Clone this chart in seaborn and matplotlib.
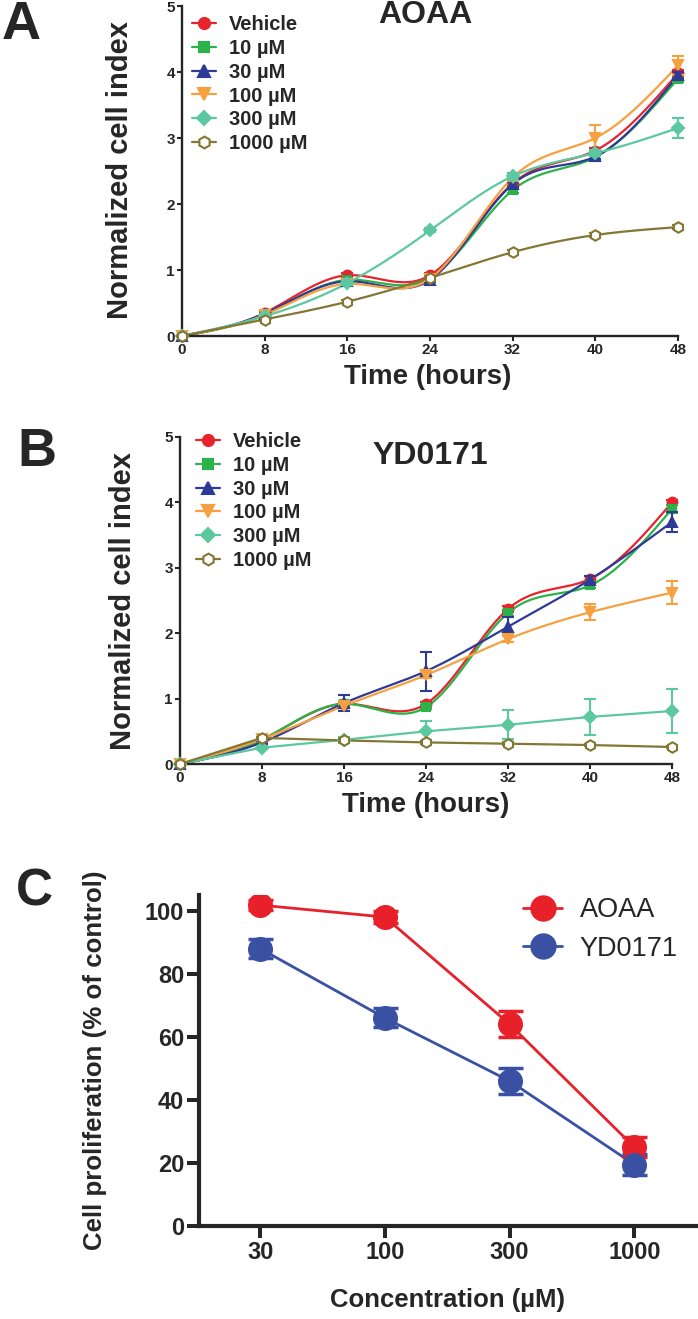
import numpy as np
import matplotlib
matplotlib.use('Agg')
import matplotlib.pyplot as plt
from matplotlib.lines import Line2D
import seaborn as sns

# Données
hours = [0, 8, 16, 24, 32, 40, 48]
groups = ['Vehicle', '10 µM', '30 µM', '100 µM', '300 µM', '1000 µM']

aoaa_vehicle = [0, 0.35, 0.92, 0.92, 2.31, 2.81, 3.98]
aoaa_10 = [0, 0.33, 0.85, 0.88, 2.21, 2.71, 3.90]
aoaa_30 = [0, 0.34, 0.83, 0.85, 2.30, 2.72, 3.95]
aoaa_100 = [0, 0.32, 0.79, 0.87, 2.40, 3.00, 4.10]
aoaa_300 = [0, 0.30, 0.80, 1.60, 2.42, 2.77, 3.15]
aoaa_1000 = [0, 0.25, 0.52, 0.88, 1.27, 1.53, 1.65]

aoaa_err_vehicle = [0, 0.02, 0.03, 0.03, 0.04, 0.04, 0.05]
aoaa_err_10 = [0, 0.02, 0.03, 0.03, 0.04, 0.04, 0.05]
aoaa_err_30 = [0, 0.02, 0.03, 0.03, 0.04, 0.04, 0.05]
aoaa_err_100 = [0, 0.02, 0.03, 0.03, 0.05, 0.19, 0.15]
aoaa_err_300 = [0, 0.02, 0.03, 0.03, 0.05, 0.05, 0.15]
aoaa_err_1000 = [0, 0.02, 0.02, 0.02, 0.03, 0.03, 0.03]

yd_vehicle = [0, 0.37, 0.92, 0.92, 2.37, 2.83, 4.00]
yd_10 = [0, 0.37, 0.92, 0.87, 2.31, 2.73, 3.90]
yd_30 = [0, 0.33, 0.93, 1.42, 2.10, 2.82, 3.70]
yd_100 = [0, 0.38, 0.89, 1.36, 1.91, 2.32, 2.62]
yd_300 = [0, 0.25, 0.37, 0.50, 0.60, 0.72, 0.81]
yd_1000 = [0, 0.40, 0.36, 0.33, 0.31, 0.29, 0.26]

yd_err_vehicle = [0, 0.02, 0.03, 0.03, 0.04, 0.04, 0.04]
yd_err_10 = [0, 0.02, 0.03, 0.03, 0.04, 0.04, 0.06]
yd_err_30 = [0, 0.02, 0.12, 0.30, 0.15, 0.05, 0.16]
yd_err_100 = [0, 0.02, 0.03, 0.05, 0.05, 0.12, 0.18]
yd_err_300 = [0, 0.02, 0.05, 0.15, 0.22, 0.28, 0.33]
yd_err_1000 = [0, 0.02, 0.02, 0.02, 0.02, 0.02, 0.02]

conc_labels = ['30', '100', '300', '1000']
prolif_aoaa = [101.8, 98.0, 64.0, 25.0]
prolif_aoaa_err = [1.5, 1.8, 4.2, 3.2]
prolif_yd = [88.0, 66.0, 46.0, 19.5]
prolif_yd_err = [3.0, 3.0, 4.2, 3.2]

colors = ['#e8232b', '#2bb34a', '#2e3b96', '#f7a03f', '#5cc8a0', '#847733']
markers = ['o', 's', '^', 'v', 'D', 'h']
msizes = [7, 6, 7.5, 7.5, 6.5, 7.5]

sns.set_style('ticks')
plt.rcParams['font.family'] = ['Liberation Sans', 'DejaVu Sans']
plt.rcParams['font.weight'] = 'bold'
plt.rcParams['axes.labelweight'] = 'bold'


def natural_spline(x, y, n=300):
    # courbe lissée (comme Prism) passant par les points
    x = np.asarray(x, float)
    y = np.asarray(y, float)
    h = np.diff(x)
    k = len(x)
    A = np.zeros((k, k))
    b = np.zeros(k)
    A[0, 0] = A[-1, -1] = 1
    for i in range(1, k - 1):
        A[i, i - 1] = h[i - 1]
        A[i, i] = 2 * (h[i - 1] + h[i])
        A[i, i + 1] = h[i]
        b[i] = 6 * ((y[i + 1] - y[i]) / h[i] - (y[i] - y[i - 1]) / h[i - 1])
    M = np.linalg.solve(A, b)
    xs = np.linspace(x[0], x[-1], n)
    idx = np.clip(np.searchsorted(x, xs) - 1, 0, k - 2)
    x0, x1 = x[idx], x[idx + 1]
    hh = x1 - x0
    t0, t1 = x1 - xs, xs - x0
    ys = (M[idx] * t0 ** 3 / (6 * hh) + M[idx + 1] * t1 ** 3 / (6 * hh)
          + (y[idx] / hh - M[idx] * hh / 6) * t0
          + (y[idx + 1] / hh - M[idx + 1] * hh / 6) * t1)
    return xs, ys


def time_panel(ax, series, errors, smooth, legend_xy):
    for i, (vals, err) in enumerate(zip(series, errors)):
        if smooth[i]:
            xs, ys = natural_spline(hours, vals)
        else:
            xs, ys = hours, vals
        sns.lineplot(x=xs, y=ys, color=colors[i], lw=1.6, estimator=None,
                     sort=False, ax=ax, zorder=2 + i * 0.1)
        face = 'white' if markers[i] == 'h' else colors[i]
        ax.errorbar(hours, vals, yerr=err, fmt=markers[i], color=colors[i],
                    mfc=face, mec=colors[i], mew=1.5, ms=msizes[i],
                    elinewidth=1.5, capsize=4, capthick=1.5,
                    clip_on=False, zorder=3 + i * 0.1)
    ax.set_xlim(0, 48)
    ax.set_ylim(0, 5)
    ax.set_xticks(hours)
    ax.set_yticks(range(6))
    sns.despine(ax=ax)
    for s in ['left', 'bottom']:
        ax.spines[s].set_linewidth(1.7)
    ax.tick_params(length=3.6, width=1.5, labelsize=11, pad=1.5)
    ax.set_xlabel('Time (hours)', fontsize=20)
    ax.set_ylabel('Normalized cell index', fontsize=21)
    handles = []
    for i in range(len(groups)):
        face = 'white' if markers[i] == 'h' else colors[i]
        handles.append(Line2D([], [], color=colors[i], lw=1.6, marker=markers[i],
                              ms=msizes[i] + 1, mfc=face, mec=colors[i], mew=1.5))
    ax.legend(handles, groups, loc='upper left', bbox_to_anchor=legend_xy,
              bbox_transform=fig.transFigure, frameon=False, borderpad=0,
              fontsize=14.5, labelspacing=0.24, handlelength=1.2,
              handletextpad=0.62, borderaxespad=0)


W, H = 698, 1319
fig = plt.figure(figsize=(W / 100, H / 100), dpi=100)

# A : AOAA
ax_a = fig.add_axes([182 / W, 1 - 336 / H, 496 / W, 330 / H])
time_panel(ax_a,
           [aoaa_vehicle, aoaa_10, aoaa_30, aoaa_100, aoaa_300, aoaa_1000],
           [aoaa_err_vehicle, aoaa_err_10, aoaa_err_30, aoaa_err_100, aoaa_err_300, aoaa_err_1000],
           [True, True, True, True, True, True],
           (192 / W, 1 - 15 / H))
ax_a.xaxis.set_label_coords(0.496, -0.124)
ax_a.xaxis.label.set_va('center')
ax_a.yaxis.set_label_coords(-0.125, 0.503)
ax_a.yaxis.label.set_va('center')
fig.text(425 / W, 1 - 15 / H, 'AOAA', ha='center', va='center', fontsize=23, fontweight='bold')

# B : YD0171
ax_b = fig.add_axes([180 / W, 1 - 764 / H, 492 / W, 327 / H])
time_panel(ax_b,
           [yd_vehicle, yd_10, yd_30, yd_100, yd_300, yd_1000],
           [yd_err_vehicle, yd_err_10, yd_err_30, yd_err_100, yd_err_300, yd_err_1000],
           [True, True, True, True, False, False],
           (196 / W, 1 - 432 / H))
ax_b.xaxis.set_label_coords(0.5, -0.125)
ax_b.xaxis.label.set_va('center')
ax_b.yaxis.set_label_coords(-0.116, 0.5)
ax_b.yaxis.label.set_va('center')
fig.text(430 / W, 1 - 456 / H, 'YD0171', ha='center', va='center', fontsize=23, fontweight='bold')

# C : prolifération
ax_c = fig.add_axes([199 / W, 1 - 1226 / H, 499 / W, 331 / H])
pos = np.arange(len(conc_labels))
c_red, c_blue = '#e8202a', '#3a50a3'
for vals, err, col, lab in [(prolif_aoaa, prolif_aoaa_err, c_red, 'AOAA'),
                            (prolif_yd, prolif_yd_err, c_blue, 'YD0171')]:
    sns.lineplot(x=pos, y=vals, color=col, lw=2.0, estimator=None, sort=False, ax=ax_c)
    ax_c.errorbar(pos, vals, yerr=err, fmt='o', color=col, ms=17,
                  elinewidth=2.5, capsize=9, capthick=2.5, zorder=3)
ax_c.set_xlim(-0.49, 3.51)
ax_c.set_ylim(0, 105)
ax_c.set_xticks(pos)
ax_c.set_xticklabels(conc_labels)
ax_c.set_yticks([0, 20, 40, 60, 80, 100])
sns.despine(ax=ax_c)
for s in ['left', 'bottom']:
    ax_c.spines[s].set_linewidth(3)
ax_c.tick_params(length=8.6, width=2.9, labelsize=17, pad=2)
ax_c.set_xlabel('Concentration (µM)', fontsize=18.5)
ax_c.set_ylabel('Cell proliferation (% of control)', fontsize=18.6)
ax_c.xaxis.set_label_coords(0.497, -0.224)
ax_c.xaxis.label.set_va('center')
ax_c.yaxis.set_label_coords(-0.208, 0.5)
ax_c.yaxis.label.set_va('center')
h_c = [Line2D([], [], color=c, lw=2.0, marker='o', ms=18) for c in (c_red, c_blue)]
ax_c.legend(h_c, ['AOAA', 'YD0171'], loc='upper left', bbox_to_anchor=(523 / W, 1 - 897 / H),
            bbox_transform=fig.transFigure, frameon=False, borderpad=0, borderaxespad=0,
            prop={'size': 19.5, 'weight': 'normal'}, labelspacing=0.47,
            handlelength=1.44, handletextpad=0.66)

# lettres des panneaux
fig.text(21 / W, 1 - 25 / H, 'A', ha='center', va='center', fontsize=39, fontweight='bold')
fig.text(37 / W, 1 - 452 / H, 'B', ha='center', va='center', fontsize=39, fontweight='bold')
fig.text(34 / W, 1 - 892 / H, 'C', ha='center', va='center', fontsize=37, fontweight='bold')

fig.savefig('out.png', dpi=100)
